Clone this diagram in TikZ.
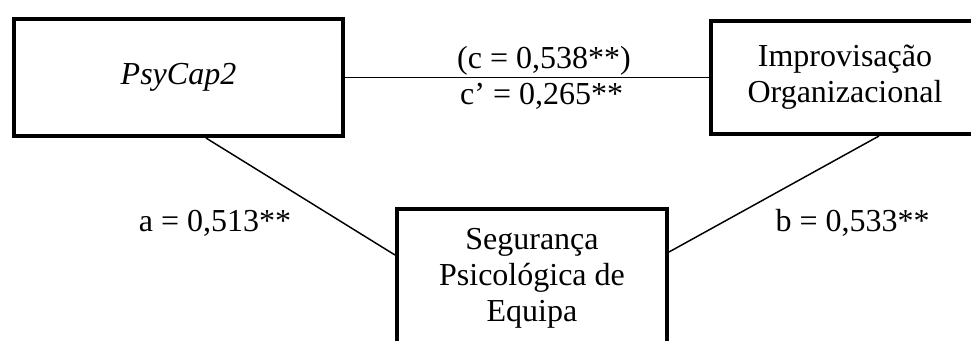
\documentclass[tikz,border=0pt]{standalone}
\usepackage{fontspec}
\setmainfont{Liberation Serif}
\usetikzlibrary{positioning}
\tikzset{
	caixa/.style={
		draw=black,
		line width=3pt,
		align=center,
		inner sep=4pt,
		font=\fontsize{24}{27}\selectfont
	},
	ligacao/.style={
		line width=1.1pt,
		black
	},
	rotulo/.style={
		inner sep=1pt,
		font=\fontsize{24}{27}\selectfont
	}
}

\begin{document}
\begin{tikzpicture}
	% fixa o tamanho da pagina
	\useasboundingbox (0,0) rectangle (728.25pt,-255pt);
	\clip (0,0) rectangle (728.25pt,-255pt);
	\node[caixa, minimum width=246.75pt, minimum height=87.75pt] (psycap) at (133.875pt,-58.125pt) {\textit{PsyCap2}};
	\node[caixa, minimum width=201pt, minimum height=84.75pt, right=273pt of psycap] (improv) {Improvisação\\Organizacional};
	\node[caixa, minimum width=202.5pt, minimum height=103.5pt, below right=51.75pt and 37.5pt of psycap] (seg) {Segurança\\Psicológica de\\Equipa};
	\draw[ligacao] (psycap.east) -- (improv.west)
		node[rotulo, midway, above, xshift=12.75pt] (c) {(c = 0,538**)}
		node[rotulo, midway, below=3pt, xshift=11pt] (clinha) {c’ = 0,265**};
	\draw[ligacao] ([xshift=20.6pt]psycap.south) -- ([yshift=-36pt]seg.north west)
		node[rotulo, pos=0.73, left=38pt] (a) {a = 0,513**};
	\draw[ligacao] ([xshift=25.5pt]improv.south) -- ([yshift=-33.75pt]seg.north east)
		node[rotulo, pos=0.75, right=39pt] (b) {b = 0,533**};
\end{tikzpicture}
\end{document}
